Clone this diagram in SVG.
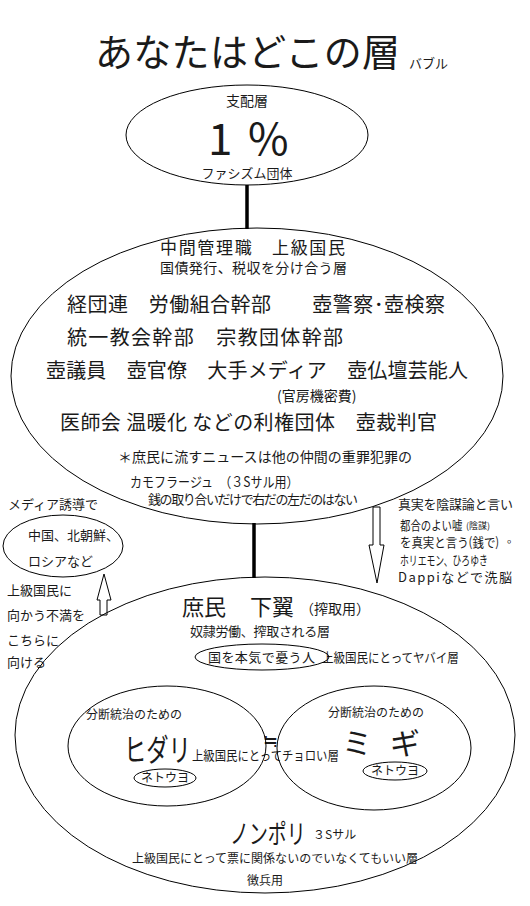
<svg xmlns="http://www.w3.org/2000/svg" width="530" height="906" viewBox="0 0 530 906">
<style>
text{font-family:"Noto Sans CJK JP","Noto Sans",sans-serif;fill:#1a1a1a}
.e{fill:none;stroke:#000;stroke-width:1}
.c{stroke:#000;stroke-width:3.5}
.a{fill:#fff;stroke:#000;stroke-width:1}
.s12{font-size:12px}
.s13{font-size:13px}
.s14{font-size:14px}
.s20{font-size:20px}
.m{text-anchor:middle}
</style>
<rect width="530" height="906" fill="#fff"/>
<g id="title">
<text x="95" y="66" style="font-size:38px" textLength="305">あなたはどこの層</text>
<text x="409" y="68" class="s13">バブル</text>
</g>
<g id="connectors">
<line class="c" x1="247" y1="185" x2="247" y2="229"/>
<line class="c" x1="254" y1="523" x2="254" y2="578"/>
<path class="a" d="M100,615 L100,600 L97,600 L104,574 L111,600 L107,600 L107,615 Z"/>
<path class="a" d="M373,507 L380,507 L380,545 L384,545 L377,583 L369,545 L373,545 Z"/>
</g>
<g id="top">
<ellipse class="e" cx="247" cy="135" rx="121" ry="50"/>
<text x="247" y="106" class="s14 m">支配層</text>
<text x="208" y="155" style="font-size:44px">1</text>
<text x="248" y="155" style="font-size:44px">%</text>
<text x="247" y="178" class="s13 m">ファシズム団体</text>
</g>
<g id="middle">
<ellipse class="e" cx="257" cy="376" rx="246" ry="148"/>
<text x="160" y="254" style="font-size:17px" textLength="185">中間管理職　上級国民</text>
<text x="160" y="273" class="s14" textLength="187">国債発行、税収を分け合う層</text>
<text x="67" y="312" class="s20" textLength="378">経団連　労働組合幹部　　壺警察･壺検察</text>
<text x="67" y="345" class="s20" textLength="276">統一教会幹部　宗教団体幹部</text>
<text x="46" y="378" class="s20" textLength="422">壺議員　壺官僚　大手メディア　壺仏壇芸能人</text>
<text x="277" y="401" class="s14">(官房機密費)</text>
<text x="60" y="430" class="s20" textLength="377">医師会 温暖化 などの利権団体　壺裁判官</text>
<text x="118" y="462" class="s14" textLength="294">＊庶民に流すニュースは他の仲間の重罪犯罪の</text>
<text transform="translate(130,487) scale(0.86,1)" class="s14">カモフラージュ　（３Sサル用）</text>
<text x="148" y="504" class="s13" textLength="210">銭の取り合いだけで右だの左だのはない</text>
</g>
<g id="left-note">
<ellipse class="e" cx="63" cy="546" rx="60" ry="31"/>
<text x="8" y="509" class="s13">メディア誘導で</text>
<text x="28" y="540" class="s13">中国、北朝鮮、</text>
<text x="28" y="566" class="s13">ロシアなど</text>
<text x="7" y="595" class="s13">上級国民に</text>
<text x="7" y="620" class="s13">向かう不満を</text>
<text x="7" y="645" class="s13">こちらに</text>
<text x="7" y="667" class="s13">向ける</text>
</g>
<g id="right-note">
<text x="398" y="509" class="s13" textLength="115">真実を陰謀論と言い</text>
<text transform="translate(400,530) scale(0.8,1)" class="s13">都合のよい嘘</text>
<text x="466" y="529" style="font-size:9px">(陰謀)</text>
<text transform="translate(400,547) scale(0.88,1)" class="s13">を真実と言う(銭で)</text>
<text x="507" y="543" style="font-size:11px">。</text>
<text transform="translate(400,565) scale(0.68,1)" class="s13">ホリエモン、ひろゆき</text>
<text x="398" y="582" class="s13" textLength="114">Dappiなどで洗脳</text>
</g>
<g id="bottom">
<ellipse class="e" cx="265" cy="735" rx="250" ry="158"/>
<text x="182" y="615" style="font-size:22px">庶民</text>
<text x="250" y="615" style="font-size:22px">下翼</text>
<text x="300" y="614" class="s14">（搾取用）</text>
<text x="190" y="636" class="s13" textLength="140">奴隷労働、搾取される層</text>
<text transform="translate(322,662) scale(0.885,1)" class="s13">上級国民にとってヤバイ層</text>
<text x="86" y="719" class="s12">分断統治のための</text>
<text x="328" y="717" class="s12">分断統治のための</text>
<text transform="translate(124,761) scale(0.72,1)" style="font-size:31px">ヒダリ</text>
<text transform="translate(192,760) scale(0.875,1)" class="s13">上級国民にとってチョロい層</text>
<text x="342" y="754" style="font-size:30px">ミ</text>
<text x="390" y="754" style="font-size:30px">ギ</text>
<text x="263" y="747" style="font-size:18px">≒</text>
<text transform="translate(230,844) scale(0.7,1)" style="font-size:27px">ノンポリ</text>
<text x="313" y="839" class="s12">３Sサル</text>
<text x="132" y="863" class="s12" textLength="286">上級国民にとって票に関係ないのでいなくてもいい層</text>
<text x="265" y="885" class="s12 m">徴兵用</text>
</g>
<g id="patriot">
<ellipse class="e" cx="262" cy="657" rx="67" ry="13"/>
<text x="208" y="662" class="s13" textLength="107">国を本気で憂う人</text>
</g>
<g id="hidari">
<ellipse class="e" cx="167" cy="746" rx="99" ry="60"/>
</g>
<g id="migi">
<ellipse class="e" cx="374" cy="748" rx="97" ry="62"/>
</g>
<g id="netouyo-left">
<ellipse class="e" cx="165" cy="778" rx="31" ry="9"/>
<text x="165" y="782" class="s12 m">ネトウヨ</text>
</g>
<g id="netouyo-right">
<ellipse class="e" cx="395" cy="771" rx="32" ry="9"/>
<text x="395" y="775" class="s12 m">ネトウヨ</text>
</g>
</svg>
